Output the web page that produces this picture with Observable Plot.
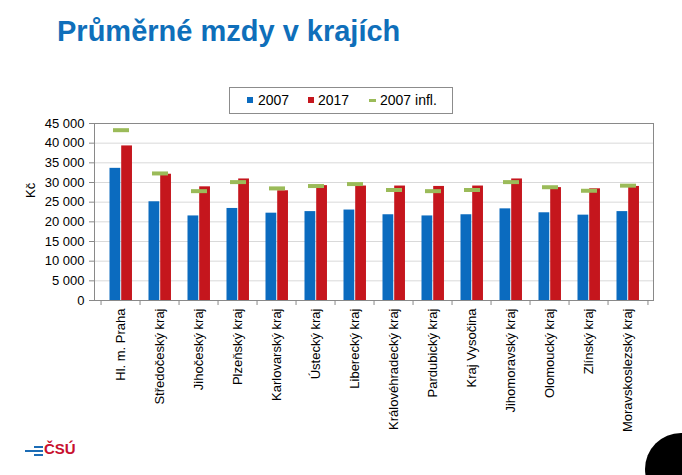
<!DOCTYPE html>
<html><head><meta charset="utf-8">
<script src="https://cdn.jsdelivr.net/npm/d3@7"></script>
<script src="https://cdn.jsdelivr.net/npm/@observablehq/plot@0.6"></script>
<style>
html,body{margin:0;padding:0;background:#fff;}
body{font-family:"Liberation Sans",Arial,sans-serif;}
#wrap{position:relative;width:682px;height:475px;overflow:hidden;}
#chart{position:absolute;left:0;top:0;}
#title{position:absolute;left:57px;top:17px;margin:0;font-size:29px;line-height:29px;font-weight:bold;color:#0f6fba;white-space:nowrap;}
#legend{position:absolute;left:229px;top:87px;width:222px;height:25px;border:1px solid #8c8c8c;background:#fff;font-size:14px;color:#000;}
#legend .sw{position:absolute;}
#legend .lt{position:absolute;top:4px;line-height:16px;white-space:nowrap;}
#logo{position:absolute;left:0;top:0;}
#logo .bl{position:absolute;height:2px;background:#1b6cb5;}
#logo .tx{position:absolute;left:44px;top:440px;font-size:15px;line-height:17px;font-weight:bold;color:#c8102e;}
#dot{position:absolute;left:645px;top:433px;width:72px;height:72px;border-radius:50%;background:#000;}
</style>
</head><body>
<div id="wrap">
  <div id="chart"></div>
  <h1 id="title">Průměrné mzdy v krajích</h1>
  <div id="legend"></div>
  <div id="logo">
    <div class="bl" style="left:34px;width:9px;top:446px"></div>
    <div class="bl" style="left:25px;width:18px;top:450px"></div>
    <div class="bl" style="left:34px;width:9px;top:454px"></div>
    <div class="tx">ČSÚ</div>
  </div>
  <div id="dot"></div>
</div>
<script>
const categories = ["Hl. m. Praha","Středočeský kraj","Jihočeský kraj","Plzeňský kraj","Karlovarský kraj","Ústecký kraj","Liberecký kraj","Královéhradecký kraj","Pardubický kraj","Kraj Vysočina","Jihomoravský kraj","Olomoucký kraj","Zlínský kraj","Moravskoslezský kraj"];
const wage2007 = [33600, 25100, 21500, 23400, 22200, 22600, 23000, 21800, 21500, 21800, 23300, 22300, 21700, 22600];
const wage2017 = [39300, 32100, 28900, 30900, 27900, 29200, 29100, 29100, 29000, 29100, 30900, 28700, 28400, 29000];
const wage2007Infl = [43300, 32300, 27800, 30100, 28500, 29100, 29600, 28100, 27800, 28100, 30100, 28800, 27900, 29200];
const seriesNames = ["2007", "2017", "2007 infl."];
const seriesColors = ["#0b6bbf", "#c5161d", "#9bbb59"];
const yTicks = [0, 5000, 10000, 15000, 20000, 25000, 30000, 35000, 40000, 45000];
const yAxisLabel = "Kč";

const rows = categories.map((c, i) => ({region: c, w2007: wage2007[i], w2017: wage2017[i], infl: wage2007Infl[i]}));
const fmt = d3.formatLocale({thousands: " ", grouping: [3], decimal: ",", currency: ["", ""]}).format(",");

const W = 682, H = 475, mL = 94, mR = 29, mT = 123, mB = 175;
const bw = (W - mL - mR) / categories.length;
const axisColor = "#898989";

const chart = Plot.plot({
  width: W, height: H,
  marginLeft: mL, marginRight: mR, marginTop: mT, marginBottom: mB,
  style: {fontFamily: "'Liberation Sans', Arial, sans-serif", fontSize: "13px", color: "#000", background: "transparent"},
  x: {domain: categories, padding: 0, label: null},
  y: {domain: [0, 45000], label: null},
  marks: [
    Plot.gridY(yTicks.slice(1, -1), {stroke: "#d9d9d9", strokeOpacity: 1}),
    Plot.barY(rows, {x: "region", y: "w2007", fill: seriesColors[0], insetLeft: 8.5, insetRight: bw - 20.2}),
    Plot.barY(rows, {x: "region", y: "w2017", fill: seriesColors[1], insetLeft: 20.2, insetRight: bw - 31.9}),
    Plot.tickY(rows, {x: "region", y: "infl", stroke: seriesColors[2], strokeWidth: 4, insetLeft: 12, insetRight: 11}),
    Plot.frame({stroke: axisColor}),
    Plot.axisY(yTicks, {tickFormat: fmt, tickSize: 5, tickPadding: 5, label: null, stroke: axisColor}),
    Plot.axisX({tickSize: 0, tickRotate: -90, tickPadding: 8, label: null}),
    Plot.ruleX(categories, {x: d => d, dx: -bw / 2, y1: 0, y2: 0, insetBottom: -5, stroke: axisColor}),
    Plot.ruleX(categories.slice(-1), {x: d => d, dx: bw / 2, y1: 0, y2: 0, insetBottom: -5, stroke: axisColor}),
    Plot.text([yAxisLabel], {frameAnchor: "left", dx: -64, dy: -14, rotate: -90, fontSize: 13, fill: "#000"})
  ]
});
document.getElementById("chart").appendChild(chart);

// legend
const legend = document.getElementById("legend");
const L0 = 229, T0 = 87;
const items = [
  {sw: {left: 247, top: 97, w: 6, h: 6}, tx: 258},
  {sw: {left: 308, top: 97, w: 6, h: 6}, tx: 318},
  {sw: {left: 369, top: 99, w: 7, h: 3}, tx: 380}
];
items.forEach((it, i) => {
  const s = document.createElement("div");
  s.className = "sw";
  s.style.left = (it.sw.left - L0 - 1) + "px";
  s.style.top = (it.sw.top - T0 - 1) + "px";
  s.style.width = it.sw.w + "px";
  s.style.height = it.sw.h + "px";
  s.style.background = seriesColors[i];
  legend.appendChild(s);
  const t = document.createElement("div");
  t.className = "lt";
  t.style.left = (it.tx - L0 - 1) + "px";
  t.textContent = seriesNames[i];
  legend.appendChild(t);
});
</script>
</body></html>
